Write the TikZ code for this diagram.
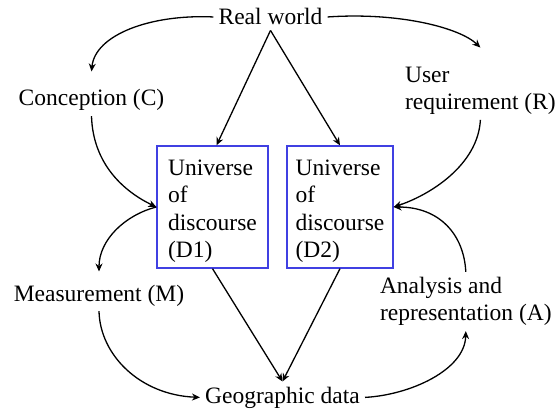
\documentclass[tikz,border=0pt]{standalone}
\usepackage{fontspec}
\setmainfont{Liberation Serif}
\usetikzlibrary{arrows.meta}
\definecolor{boxblue}{RGB}{64,64,226}
\begin{document}
\begin{tikzpicture}[x=1pt,y=-1pt,
  lbl/.style={inner sep=5pt, font=\fontsize{23.5}{27.5}\selectfont},
  ml/.style={lbl, align=left},
  ubox/.style={draw=boxblue, line width=1.3pt, align=left, inner sep=0pt,
    font=\fontsize{23.5}{27.5}\selectfont},
  arr/.style={line width=1.3pt, -{Stealth[length=8pt,width=7pt]}},
  ln/.style={line width=1.3pt}]
\useasboundingbox (0,0) rectangle (556,409);

% labels
\node[lbl, anchor=base] (rw) at (270.5,25) {Real world};
\node[lbl, anchor=base] (con) at (91.5,106) {Conception (C)};
\node[lbl, anchor=base] (meas) at (99,301) {Measurement (M)};
\node[lbl, anchor=base] (geo) at (282.5,403) {Geographic data};
\node[ml] (usr) at (480.4,90.7) {User\\requirement (R)};
\node[ml] (ana) at (465.8,301.5) {Analysis and\\representation (A)};

% boxes
\node[ubox, minimum width=111pt, minimum height=122pt] (d1) at (212.5,207)
  {\rule{0pt}{24pt}Universe\\of\\discourse\\(D1)};
\node[ubox, minimum width=106pt, minimum height=122pt] (d2) at (340,207)
  {\rule{0pt}{24pt}Universe\\of\\discourse\\(D2)};

% straight connectors
\draw[arr] (rw.south) -- ([xshift=4pt]d1.north);
\draw[arr] (rw.south) -- (d2.north);
\draw[arr] (d1.south) -- (geo.north);
\draw[arr] (d2.south) -- (geo.north);

% curved connectors
\draw[arr] (rw.west) .. controls (150,14) and (95,35) .. ([yshift=13pt]con.north);
\draw[arr] (con.south) .. controls (93,165) and (125,192) .. (d1.west);
\draw[arr] (d1.west) .. controls (125,215) and (99,240) .. ([yshift=8pt]meas.north);
\draw[arr] (meas.south) .. controls (100,355) and (140,395) .. (geo.west);
\draw[arr] (geo.east) .. controls (410,395) and (465,370) .. (ana.south);
\draw[arr] (ana.north) .. controls (464,235) and (440,207) .. (d2.east);
\draw[arr] (usr.south) .. controls (478,165) and (430,195) .. (d2.east);
\draw[arr] (rw.east) .. controls (400,12) and (460,28) .. ([yshift=14pt]usr.north);
\end{tikzpicture}
\end{document}
